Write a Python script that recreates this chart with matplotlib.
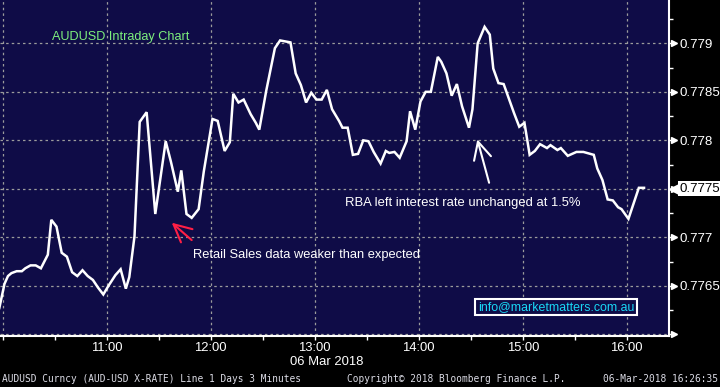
import matplotlib
matplotlib.use("Agg")
import matplotlib.pyplot as plt
import matplotlib.transforms as mtransforms
from matplotlib.ticker import FixedLocator, MultipleLocator
import numpy as np

# ── AUDUSD 3-minute intraday, 06 Mar 2018 ─────────────────────────────────────
TIMES = [
    "09:58", "10:01", "10:03", "10:05", "10:08", "10:11", "10:13", "10:16", "10:19", "10:22",
    "10:26", "10:28", "10:31", "10:34", "10:37", "10:40", "10:43", "10:46", "10:49", "10:52",
    "10:55", "10:58", "11:01", "11:05", "11:08", "11:11", "11:13", "11:16", "11:19", "11:23",
    "11:28", "11:34", "11:37", "11:41", "11:43", "11:46", "11:49", "11:53", "11:56", "12:01",
    "12:04", "12:08", "12:11", "12:13", "12:16", "12:19", "12:23", "12:26", "12:28", "12:32",
    "12:37", "12:40", "12:43", "12:46", "12:49", "12:52", "12:55", "12:58", "13:01", "13:04",
    "13:07", "13:10", "13:14", "13:16", "13:19", "13:22", "13:25", "13:28", "13:31", "13:34",
    "13:38", "13:41", "13:43", "13:46", "13:49", "13:53", "13:55", "13:58", "14:01", "14:04",
    "14:07", "14:11", "14:13", "14:16", "14:19", "14:22", "14:25", "14:29", "14:31", "14:34",
    "14:38", "14:41", "14:43", "14:46", "14:49", "14:52", "14:55", "14:58", "15:01", "15:04",
    "15:07", "15:10", "15:14", "15:16", "15:20", "15:22", "15:26", "15:31", "15:35", "15:39",
    "15:41", "15:43", "15:46", "15:49", "15:52", "15:55", "15:57", "16:01", "16:04", "16:07",
    "16:10",
]
PRICES = [
    0.77627, 0.77652, 0.77660, 0.77663, 0.77665, 0.77665, 0.77668, 0.77671, 0.77671, 0.77668,
    0.77682, 0.77718, 0.77711, 0.77684, 0.77680, 0.77664, 0.77660, 0.77666, 0.77660, 0.77656,
    0.77648, 0.77641, 0.77650, 0.77661, 0.77667, 0.77647, 0.77659, 0.77701, 0.77819, 0.77829,
    0.77724, 0.77799, 0.77778, 0.77747, 0.77769, 0.77724, 0.77720, 0.77729, 0.77768, 0.77822,
    0.77820, 0.77789, 0.77798, 0.77848, 0.77839, 0.77842, 0.77827, 0.77818, 0.77811, 0.77851,
    0.77895, 0.77903, 0.77902, 0.77901, 0.77869, 0.77857, 0.77839, 0.77849, 0.77842, 0.77842,
    0.77852, 0.77832, 0.77820, 0.77813, 0.77813, 0.77785, 0.77786, 0.77800, 0.77799, 0.77788,
    0.77776, 0.77789, 0.77787, 0.77788, 0.77782, 0.77799, 0.77830, 0.77811, 0.77840, 0.77850,
    0.77850, 0.77886, 0.77881, 0.77869, 0.77846, 0.77858, 0.77835, 0.77813, 0.77832, 0.77900,
    0.77917, 0.77909, 0.77874, 0.77859, 0.77858, 0.77843, 0.77828, 0.77814, 0.77818, 0.77785,
    0.77789, 0.77796, 0.77792, 0.77795, 0.77790, 0.77792, 0.77784, 0.77788, 0.77788, 0.77786,
    0.77785, 0.77771, 0.77759, 0.77739, 0.77738, 0.77731, 0.77729, 0.77719, 0.77735, 0.77751,
    0.77751,
]
HOUR_LABELS = ["10:00", "11:00", "12:00", "13:00", "14:00", "15:00", "16:00"]
Y_MAJOR = [0.776, 0.7765, 0.777, 0.7775, 0.778, 0.7785, 0.779]
LAST_PRICE = 0.7775

TITLE = "AUDUSD Intraday Chart"
NOTE_RETAIL = "Retail Sales data weaker than expected"
NOTE_RBA = "RBA left interest rate unchanged at 1.5%"
EMAIL = "info@marketmatters.com.au"

NAVY = "#0f0c47"
GRID = "#9c9c9c"
FONT = ["Liberation Sans", "DejaVu Sans"]


def to_min(s):
    h, m = s.split(":")
    return (int(h) - 10) * 60 + int(m)


x = np.array([to_min(t) for t in TIMES])
y = np.array(PRICES)

fig = plt.figure(figsize=(7.2, 3.87), dpi=100, facecolor="black")
ax = fig.add_axes([0.0, 0.1326, 669 / 720, 1 - 0.1326])
ax.set_facecolor(NAVY)

ax.plot(x, y, color="white", lw=1.8, solid_joinstyle="miter", zorder=3)

ax.set_xlim(-1.6, 384.4)
ax.set_ylim(0.775985, 0.779447)

# x axis
hour_pos = [to_min(h) for h in HOUR_LABELS]
ax.xaxis.set_major_locator(FixedLocator(hour_pos))
ax.set_xticklabels([""] + HOUR_LABELS[1:])
ax.xaxis.set_minor_locator(FixedLocator([p + 30 for p in hour_pos]))
ax.tick_params(axis="x", which="both", direction="out", length=3, width=1,
               color="white", labelcolor="white", labelsize=9.4, pad=1.5)
for lab in ax.get_xticklabels():
    lab.set_family(FONT)

# y axis on the right
ax.yaxis.tick_right()
ax.yaxis.set_major_locator(FixedLocator(Y_MAJOR))
ax.set_yticklabels(["" if (v == 0.776 or v == LAST_PRICE) else f"{v:g}" for v in Y_MAJOR])
ax.yaxis.set_minor_locator(MultipleLocator(0.00025))
ax.tick_params(axis="y", which="major", direction="out", length=4, width=1,
               color="white", labelcolor="white", labelsize=9.6, pad=3.5)
ax.tick_params(axis="y", which="minor", direction="out", length=3, width=1, color="white")
for lab in ax.get_yticklabels():
    lab.set_family(FONT)

for side in ["top", "left"]:
    ax.spines[side].set_visible(False)
for side in ["right", "bottom"]:
    ax.spines[side].set_color("white")
    ax.spines[side].set_linewidth(1.5)

ax.grid(True, which="major", color=GRID, lw=0.9, linestyle=(0, (2, 2.5)))
ax.set_axisbelow(True)

# triangles on the major y ticks
blend = mtransforms.blended_transform_factory(ax.transAxes, ax.transData)
tri = mtransforms.offset_copy(blend, fig=fig, x=5, y=0, units="dots")
ax.plot([1.0] * len(Y_MAJOR), Y_MAJOR, linestyle="none", marker=">", ms=4,
        color="white", transform=tri, clip_on=False)

# last price box
ax.annotate(f"{LAST_PRICE:.4f}", xy=(1.0, LAST_PRICE), xycoords=blend,
            xytext=(11, 0), textcoords="offset pixels", ha="left", va="center",
            fontsize=9.6, family=FONT, color="black",
            bbox=dict(boxstyle="square,pad=0.12", fc="white", ec="none"),
            annotation_clip=False)
tri2 = mtransforms.offset_copy(blend, fig=fig, x=6, y=0, units="dots")
ax.plot([1.0], [LAST_PRICE], marker="<", ms=8, color="white",
        transform=tri2, clip_on=False)

# date under the axis
fig.text(290 / 720, 1 - 362 / 387, "06 Mar 2018", color="white", fontsize=9.4,
         family=FONT, ha="left", va="center")

# annotations
ax.text(28.4, 0.779065, TITLE, color="#7df07d", fontsize=9.05, family=FONT,
        ha="left", va="center")
ax.text(109.8, 0.776817, NOTE_RETAIL, color="white", fontsize=9.3, family=FONT,
        ha="left", va="center")
ax.text(197.5, 0.777353, NOTE_RBA, color="white", fontsize=9.35, family=FONT,
        ha="left", va="center")

ax.annotate("", xy=(97.5, 0.777150), xytext=(109.0, 0.776971),
            arrowprops=dict(arrowstyle="->,head_length=0.7,head_width=0.35",
                            color="#ff1f45", lw=1.5, mutation_scale=18,
                            shrinkA=0, shrinkB=0))
ax.annotate("", xy=(273.8, 0.778010), xytext=(280.6, 0.777562),
            arrowprops=dict(arrowstyle="->,head_length=0.7,head_width=0.35",
                            color="white", lw=1.5, mutation_scale=18,
                            shrinkA=0, shrinkB=0))

ax.text(319.2, 0.776281, EMAIL, color="#19d7f5", fontsize=8.9, family=FONT,
        ha="center", va="center",
        bbox=dict(boxstyle="square,pad=0.2", fc=NAVY, ec="white", lw=1.5))

# footer
foot = dict(color="#dcdce6", fontsize=6.85, family="DejaVu Sans Mono", va="center")
fig.text(2 / 720, 1 - 379 / 387, "AUDUSD Curncy (AUD-USD X-RATE) Line 1 Days 3 Minutes",
         ha="left", **foot)
fig.text(347 / 720, 1 - 379 / 387, "Copyright\u00a9 2018 Bloomberg Finance L.P.",
         ha="left", **foot)
fig.text(718 / 720, 1 - 379 / 387, "06-Mar-2018 16:26:35", ha="right", **foot)

fig.savefig("out.png", dpi=100, facecolor="black")
